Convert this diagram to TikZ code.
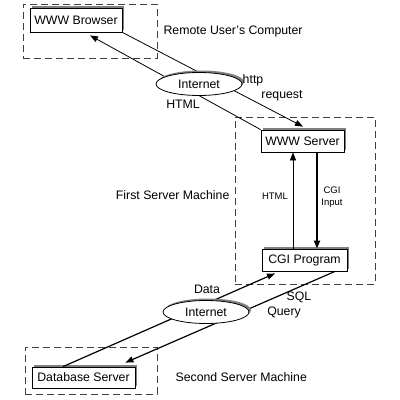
\documentclass[tikz,border=0pt]{standalone}
\usepackage{fontspec}
\setmainfont{Liberation Sans}
\usetikzlibrary{positioning, shapes, arrows.meta, shadows, calc}

\tikzset{
  machine/.style={draw=black!75, dash pattern=on 7pt off 4pt, line width=0.8pt},
  program/.style={draw, fill=white, inner sep=0pt, line width=0.8pt,
    font=\fontsize{12.3}{14}\selectfont,
    drop shadow={shadow xshift=2pt, shadow yshift=2pt, fill=black!50, opacity=1}},
  net/.style={ellipse, draw, fill=white, inner sep=0pt, line width=0.8pt,
    minimum width=86pt, minimum height=23pt, font=\fontsize{12.3}{14}\selectfont,
    drop shadow={shadow xshift=2pt, shadow yshift=2pt, fill=black!50, opacity=1}},
  flow/.style={-{Triangle[length=8pt, width=6pt]}, line width=0.8pt},
  lbl/.style={font=\fontsize{12.3}{14}\selectfont, inner sep=0pt},
  small/.style={font=\fontsize{9.5}{12}\selectfont, align=center, inner sep=0pt}
}

\begin{document}
\begin{tikzpicture}[x=1pt, y=-1pt]
  \useasboundingbox (0,0) rectangle (400,400);

  % machines
  \node[machine, minimum width=134pt, minimum height=54pt] (remote) at (90,31) {};
  \node[machine, minimum width=140pt, minimum height=167pt] (first) at (305,200.5) {};
  \node[machine, minimum width=132pt, minimum height=47pt] (second) at (91,370.5) {};

  \node[lbl, right=6pt of remote.east] (remotelbl) {Remote User's Computer};
  \node[lbl, left=5pt of first.west, yshift=5.5pt] (firstlbl) {First Server Machine};
  \node[lbl, right=18pt of second.east, yshift=-6.5pt] (secondlbl) {Second Server Machine};

  % programs
  \node[program, minimum width=92pt, minimum height=24pt] (browser) at (76,20) {WWW Browser};
  \node[program, minimum width=83pt, minimum height=22pt] (wwwserver) at (302.5,141) {WWW Server};
  \node[program, minimum width=85pt, minimum height=22pt] (cgi) at (304.5,260) {CGI Program};
  \node[program, minimum width=103pt, minimum height=21pt] (db) at (83.5,377.5) {Database Server};

  % connections
  \draw[flow] (browser.south east) -- ($(wwwserver.north)+(0.5,-3)$);
  \draw[flow] (wwwserver.north west) -- ($(browser.south)+(14,3)$);
  \draw[flow] ($(cgi.north)+(-11.5,0)$) -- ($(wwwserver.south)+(-9.5,0)$);
  \draw[flow, line width=2.5pt] ($(wwwserver.south)+(14.5,0)$) -- ($(cgi.north)+(12.5,0)$);
  \draw[flow, line width=1.2pt] ($(db.north)+(-20.5,0)$) -- ($(cgi.south)+(-29.5,2)$);
  \draw[flow, line width=1.2pt] ($(cgi.south)+(30.5,0)$) -- ($(db.north east)+(-10,-4)$);

  % internet clouds on top of the lines
  \node[net] (inet1) at (199,84) {Internet};
  \node[net] (inet2) at (206,312) {Internet};

  \node[lbl] (http) at (253,80) {http};
  \node[lbl] (request) at (282,96) {request};
  \node[lbl] (html1) at (183,104) {HTML};
  \node[small] (html2) at (275,196) {HTML};
  \node[small] (cgiin) at (332,197) {CGI\\Input};
  \node[lbl] (data) at (207,289) {Data};
  \node[lbl] (sql) at (299,297) {SQL};
  \node[lbl] (query) at (284,312) {Query};
\end{tikzpicture}
\end{document}
